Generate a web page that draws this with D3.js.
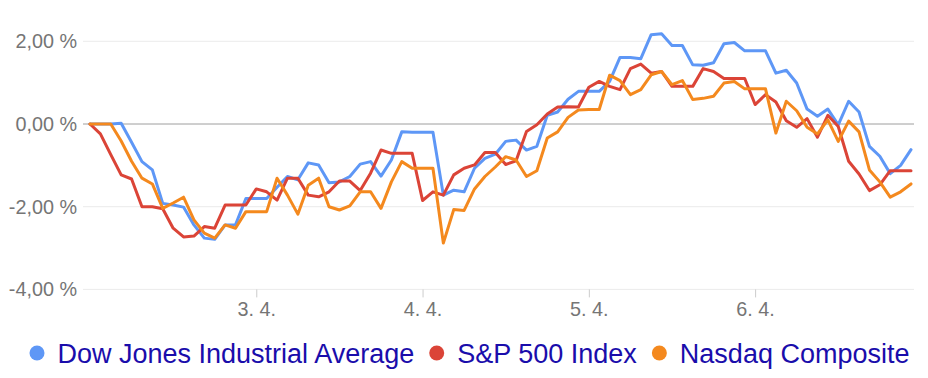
<!DOCTYPE html>
<html><head><meta charset="utf-8">
<script src="https://cdn.jsdelivr.net/npm/d3@7"></script>
<style>body{margin:0;background:#fff}svg{display:block}</style>
</head><body>
<svg id="chart" width="928" height="378"></svg>
<script>
// ---- data ----
const seriesNames = ["Dow Jones Industrial Average", "S&P 500 Index", "Nasdaq Composite"];
const seriesColors = ["#5e97f6", "#db4437", "#f4891e"];
const dow = [0, 0, 0, 0.02, -0.44, -0.91, -1.11, -1.92, -1.96, -2.01,
  -2.44, -2.76, -2.79, -2.44, -2.44, -1.80, -1.80, -1.80, -1.53, -1.27,
  -1.35, -0.94, -0.99, -1.42, -1.40, -1.27, -0.97, -0.91, -1.26, -0.87,
  -0.19, -0.20, -0.20, -0.20, -1.72, -1.60, -1.64, -1.07, -0.83, -0.73,
  -0.42, -0.39, -0.63, -0.54, 0.21, 0.29, 0.60, 0.79, 0.79, 0.79,
  1.03, 1.61, 1.61, 1.58, 2.16, 2.18, 1.90, 1.90, 1.43, 1.42,
  1.48, 1.94, 1.97, 1.77, 1.77, 1.77, 1.23, 1.30, 0.99, 0.36,
  0.19, 0.36, -0.02, 0.55, 0.29, -0.54, -0.78, -1.20, -1.00, -0.62];
const sp500 = [0, -0.24, -0.74, -1.23, -1.33, -2.00, -2.00, -2.05, -2.52, -2.73,
  -2.71, -2.48, -2.52, -1.96, -1.96, -1.96, -1.57, -1.64, -1.84, -1.31,
  -1.31, -1.72, -1.76, -1.64, -1.38, -1.38, -1.61, -1.19, -0.63, -0.71,
  -0.71, -0.71, -1.85, -1.64, -1.72, -1.23, -1.07, -0.99, -0.69, -0.69,
  -0.98, -0.89, -0.18, -0.02, 0.24, 0.41, 0.42, 0.41, 0.89, 1.03,
  0.91, 0.83, 1.34, 1.45, 1.23, 1.27, 0.91, 0.91, 0.91, 1.34,
  1.27, 1.10, 1.10, 1.10, 0.47, 0.71, 0.53, 0.08, -0.08, 0.13,
  -0.32, 0.21, -0.06, -0.90, -1.21, -1.61, -1.47, -1.13, -1.13, -1.13];
const nasdaq = [0, 0, 0, -0.41, -0.90, -1.31, -1.45, -2.04, -1.91, -1.77,
  -2.32, -2.64, -2.76, -2.44, -2.52, -2.12, -2.12, -2.12, -1.31, -1.72,
  -2.18, -1.48, -1.31, -2.00, -2.08, -1.98, -1.64, -1.64, -2.04, -1.40,
  -0.91, -1.07, -1.07, -1.07, -2.88, -2.07, -2.09, -1.57, -1.27, -1.04,
  -0.79, -0.87, -1.27, -1.13, -0.34, -0.19, 0.16, 0.34, 0.35, 0.35,
  1.18, 1.05, 0.71, 0.83, 1.19, 1.27, 0.95, 1.05, 0.59, 0.62,
  0.67, 0.99, 1.03, 0.85, 0.85, 0.85, -0.22, 0.55, 0.32, -0.08,
  -0.24, 0.10, -0.42, 0.07, -0.19, -1.11, -1.40, -1.77, -1.64, -1.45];
const xTickLabels = ["3. 4.", "4. 4.", "5. 4.", "6. 4."];
const pointsPerDay = 16;
const yTickValues = [-4, -2, 0, 2];

// ---- chart ----
const svg = d3.select("#chart");
const FONT = "Arial, 'Liberation Sans', sans-serif";
const plotLeft = 83, plotRight = 914;
const x = d3.scaleLinear().domain([0, dow.length - 1]).range([90, 911]);
const y = d3.scaleLinear().domain([-4, 2]).range([289.4, 41.3]);

// gridlines
const grid = svg.append("g");
grid.selectAll("line").data(yTickValues.filter(v => v !== 0)).join("line")
  .attr("x1", plotLeft).attr("x2", plotRight)
  .attr("y1", d => y(d)).attr("y2", d => y(d))
  .attr("stroke", "#ebebeb").attr("stroke-width", 1);

// y labels
const fmt = v => v.toFixed(2).replace(".", ",") + " %";
const yAxis = d3.axisLeft(y).tickValues(yTickValues).tickFormat(fmt).tickSize(0).tickPadding(0);
const yg = svg.append("g").attr("transform", `translate(77,0)`).call(yAxis);
yg.select(".domain").remove();
yg.selectAll("text").attr("font-family", FONT).attr("font-size", 19.8).attr("fill", "#757575");

// x ticks
const xTickIdx = xTickLabels.map((d, i) => (i + 1) * pointsPerDay);
const xAxis = d3.axisBottom(x).tickValues(xTickIdx)
  .tickFormat((d, i) => xTickLabels[i]).tickSize(8).tickPadding(5);
const xg = svg.append("g").attr("transform", `translate(0,${y(-4)})`).call(xAxis);
xg.select(".domain").remove();
xg.selectAll(".tick line").attr("stroke", "#cccccc");
xg.selectAll("text").attr("font-family", FONT).attr("font-size", 19.8).attr("fill", "#757575");

// baseline at zero
svg.append("line").attr("x1", plotLeft).attr("x2", plotRight)
  .attr("y1", y(0)).attr("y2", y(0)).attr("stroke", "#9e9e9e").attr("stroke-width", 1);

// lines
const allSeries = [dow, sp500, nasdaq];
const line = d3.line().x((d, i) => x(i)).y(d => y(d));
svg.append("g").selectAll("path").data(allSeries).join("path")
  .attr("d", d => line(d))
  .attr("fill", "none")
  .attr("stroke", (d, i) => seriesColors[i])
  .attr("stroke-width", 3)
  .attr("stroke-linejoin", "round")
  .attr("stroke-linecap", "round");

// legend
const lg = svg.append("g");
let cx = 37;
seriesNames.forEach((name, i) => {
  lg.append("circle").attr("cx", cx).attr("cy", 353).attr("r", 7.5).attr("fill", seriesColors[i]);
  const t = lg.append("text").attr("x", cx + 20.5).attr("y", 362.5)
    .attr("font-family", FONT).attr("font-size", 27).attr("fill", "#1a0dab").text(name);
  const w = t.node().getComputedTextLength();
  cx = cx + 20.5 + w + 22.5;
});
</script>
</body></html>
